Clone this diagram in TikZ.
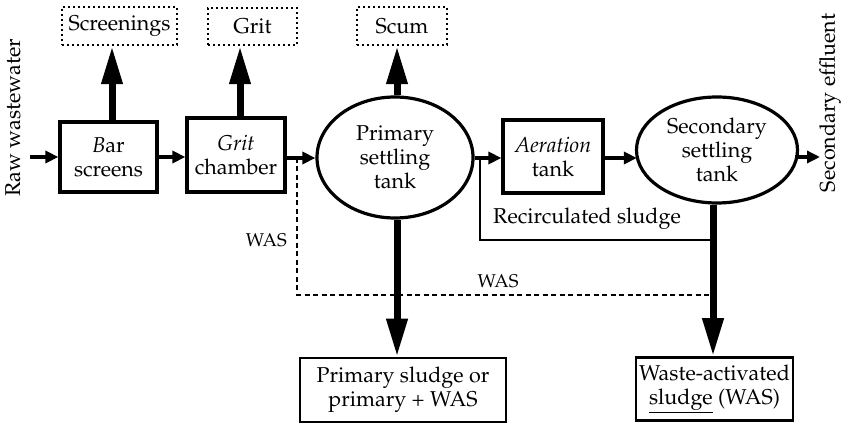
\documentclass[tikz,border=0pt]{standalone}
\usepackage[T1]{fontenc}
\renewcommand{\rmdefault}{ppl}
\usetikzlibrary{arrows.meta,shapes.geometric,calc}
\tikzset{
  txt/.style={font=\fontsize{21.5}{24}\selectfont, align=center, inner sep=0pt},
  procbox/.style={txt, draw, line width=3.2pt, rectangle},
  tankell/.style={txt, draw, line width=3.2pt, ellipse, inner sep=0pt},
  outbox/.style={txt, draw, line width=2.4pt, dash pattern=on 2.4pt off 2.6pt},
  smallarr/.style={line width=4pt, -{Triangle[width=12pt,length=13pt]}},
  bigarr/.style={line width=7pt, -{Triangle[width=20pt,length=38pt]}},
  thinline/.style={line width=1.6pt},
  wasline/.style={line width=1.6pt, dash pattern=on 5pt off 3.5pt},
  lbl/.style={font=\fontsize{18.5}{21}\selectfont, inner sep=0pt},
}
\begin{document}
\begin{tikzpicture}[x=1pt,y=1pt]
\useasboundingbox (0,0) rectangle (845,425);

% side labels
\node[txt, rotate=90] (raw) at (13,307) {Raw wastewater};
\node[txt, rotate=90] (eff) at (830,322) {Secondary effluent};

% process units
\node[procbox, minimum width=97pt, minimum height=70pt] (bar) at (108.5,268) {\textit{B}ar\\screens};
\node[procbox, minimum width=98pt, minimum height=74pt] (grit) at (236,270) {\textit{Grit}\\chamber};
\node[tankell, minimum width=156pt, minimum height=121pt] (prim) at (395,267.5) {Primary\\settling\\tank};
\node[procbox, minimum width=100pt, minimum height=73pt] (aer) at (553,268.5) {\textit{Aeration}\\tank};
\node[tankell, minimum width=161pt, minimum height=106pt] (sec) at (717,275) {Secondary\\settling\\tank};

% outputs
\node[outbox, minimum width=115pt, minimum height=38pt] (scr) at (119.5,399) {Screenings};
\node[outbox, minimum width=89pt, minimum height=37pt] (gout) at (252.5,398.5) {Grit};
\node[outbox, minimum width=90pt, minimum height=38pt] (scum) at (402,399) {Scum};
\node[procbox, line width=2.6pt, minimum width=206pt, minimum height=64pt] (ps) at (403,35) {Primary sludge or\\primary + WAS};
\node[procbox, line width=2.6pt, minimum width=157pt, minimum height=63pt] (was) at (714.5,36) {Waste-activated\\\underline{sludge} (WAS)};

% free ends and guides
\coordinate (in) at (30,268);
\coordinate (out) at (820,268);
\coordinate (m) at (0,267);
\coordinate (xa) at (112,0);
\coordinate (xb) at (240,0);
\coordinate (xc) at (397,0);
\coordinate (xd) at (713,0);
\coordinate (d0) at (297,267);
\coordinate (d1) at (297,130);
\coordinate (d2) at (713,130);
\coordinate (r0) at (480,267);
\coordinate (r1) at (480,185);
\coordinate (r2) at (713,185);

% main flow
\draw[smallarr] (in) -- (in -| bar.west);
\draw[smallarr] (bar.east |- in) -- (grit.west |- in);
\draw[smallarr] (grit.east |- m) -- (prim.west |- m);
\draw[smallarr] (prim.east |- m) -- (aer.west |- m);
\draw[smallarr] (aer.east |- m) -- ($(sec.west |- m)+(2,0)$);
\draw[smallarr] ($(sec.east |- out)+(-4,0)$) -- (out);

% removals
\draw[bigarr] (xa |- bar.north) -- (xa |- scr.south);
\draw[bigarr] (xb |- grit.north) -- (xb |- gout.south);
\draw[bigarr] (xc |- prim.north) -- (xc |- scum.south);

% sludge
\draw[bigarr] (xc |- prim.south) -- (xc |- ps.north);
\draw[bigarr] (xd |- sec.south) -- (xd |- was.north);

% recirculation and WAS lines
\draw[thinline] (r0) -- (r1) -- (r2);
\draw[wasline] (d0) -- (d1) -- (d2);

\node[txt, anchor=west] (rec) at (493,206) {Recirculated sludge};
\node[lbl, anchor=east] (was1) at (287,185) {WAS};
\node[lbl] (was2) at (498,144) {WAS};
\end{tikzpicture}
\end{document}
